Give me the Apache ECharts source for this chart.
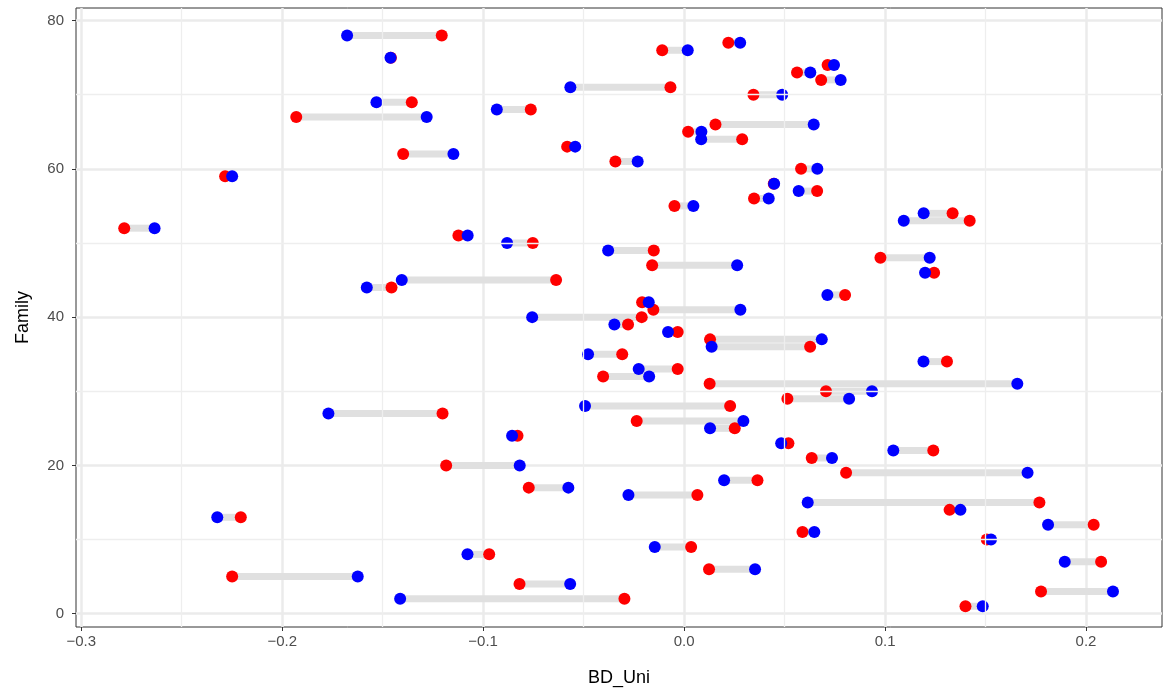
<!DOCTYPE html>
<html>
<head>
<meta charset="utf-8">
<script src="https://cdn.jsdelivr.net/npm/echarts@6.0.0/dist/echarts.min.js"></script>
<style>
  html, body { margin: 0; padding: 0; background: #fff; }
  #main { width: 1164px; height: 698px; }
</style>
</head>
<body>
<div id="main"></div>
<script>
// families 1..78
const family = [];
for (let f = 1; f <= 78; f++) family.push(f);

// BD_Uni, blue points (family 1 first)
const blueVals = [
  0.1486, -0.1413, 0.2134, -0.0567, -0.1624, 0.0353, 0.1894, -0.1078, -0.0146, 0.1527,
  0.0648, 0.1811, -0.2323, 0.1375, 0.0615, -0.0277, -0.0576, 0.0199, 0.1709, -0.0818,
  0.0736, 0.1041, 0.0483, -0.0856, 0.0129, 0.0295, -0.1770, -0.0493, 0.0821, 0.0935,
  0.1658, -0.0174, -0.0226, 0.1191, -0.0478, 0.0137, 0.0685, -0.0080, -0.0347, -0.0756,
  0.0280, -0.0176, 0.0713, -0.1579, -0.1405, 0.1199, 0.0264, 0.1222, -0.0378, -0.0881,
  -0.1077, -0.2635, 0.1093, 0.1192, 0.0046, 0.0421, 0.0570, 0.0448, -0.2249, 0.0663,
  -0.0231, -0.1148, -0.0542, 0.0085, 0.0086, 0.0645, -0.1281, -0.0932, -0.1531, 0.0488,
  -0.0566, 0.0779, 0.0628, 0.0746, -0.1461, 0.0018, 0.0279, -0.1677
];

// BD_Uni, red points (family 1 first)
const redVals = [
  0.1400, -0.0297, 0.1776, -0.0819, -0.2249, 0.0124, 0.2075, -0.0970, 0.0035, 0.1506,
  0.0589, 0.2038, -0.2206, 0.1321, 0.1768, 0.0066, -0.0773, 0.0365, 0.0806, -0.1184,
  0.0635, 0.1240, 0.0519, -0.0829, 0.0252, -0.0236, -0.1202, 0.0229, 0.0514, 0.0706,
  0.0127, -0.0403, -0.0032, 0.1308, -0.0308, 0.0627, 0.0129, -0.0032, -0.0279, -0.0211,
  -0.0153, -0.0209, 0.0801, -0.1456, -0.0637, 0.1244, -0.0159, 0.0977, -0.0151, -0.0753,
  -0.1123, -0.2786, 0.1421, 0.1336, -0.0048, 0.0348, 0.0662, 0.0446, -0.2284, 0.0582,
  -0.0342, -0.1398, -0.0582, 0.0289, 0.0020, 0.0156, -0.1930, -0.0763, -0.1355, 0.0345,
  -0.0068, 0.0682, 0.0562, 0.0714, -0.1459, -0.0109, 0.0220, -0.1206
];

const xTicks = [-0.3, -0.2, -0.1, 0.0, 0.1, 0.2];
const yTicks = [0, 20, 40, 60, 80];
const xMinor = [-0.25, -0.15, -0.05, 0.05, 0.15];
const yMinor = [10, 30, 50, 70];

let chartDom = document.getElementById("main");
let myChart = echarts.init(chartDom, null, { renderer: "canvas" });
let option;

const fontFam = "Liberation Sans, Arial, sans-serif";

let segData = family.map((f, i) => [blueVals[i], redVals[i], f]);
let redData = family.map((f, i) => [redVals[i], f]);
let blueData = family.map((f, i) => [blueVals[i], f]);

let minorLines = xMinor.map((v) => ({ xAxis: v })).concat(yMinor.map((v) => ({ yAxis: v })));

option = {
  animation: false,
  backgroundColor: "#ffffff",
  grid: {
    left: 76,
    right: 2,
    top: 8,
    bottom: 71,
    show: true,
    borderColor: "#333333",
    borderWidth: 1,
    backgroundColor: "#ffffff",
    containLabel: false,
    outerBoundsMode: "none",
  },
  xAxis: {
    type: "value",
    min: -0.3026,
    max: 0.2378,
    name: "BD_Uni",
    nameLocation: "middle",
    nameGap: 42,
    nameTextStyle: { color: "#000", fontSize: 18, fontFamily: fontFam },
    axisLine: { show: false, onZero: false },
    axisTick: {
      show: true,
      customValues: xTicks,
      length: 4,
      lineStyle: { color: "#333333", width: 1 },
    },
    axisLabel: {
      customValues: xTicks,
      margin: 7,
      color: "#4d4d4d",
      fontSize: 15,
      fontFamily: fontFam,
      formatter: function (v) {
        return v.toFixed(1).replace("-", "\u2212");
      },
    },
    splitLine: { show: true, lineStyle: { color: "#ebebeb", width: 2.5 } },
  },
  yAxis: {
    type: "value",
    min: -1.8,
    max: 81.7,
    name: "Family",
    nameLocation: "middle",
    nameGap: 44,
    nameTextStyle: { color: "#000", fontSize: 18, fontFamily: fontFam },
    axisLine: { show: false, onZero: false },
    axisTick: {
      show: true,
      customValues: yTicks,
      length: 4,
      lineStyle: { color: "#333333", width: 1 },
    },
    axisLabel: {
      customValues: yTicks,
      margin: 12,
      color: "#4d4d4d",
      fontSize: 15,
      fontFamily: fontFam,
    },
    splitLine: { show: true, lineStyle: { color: "#ebebeb", width: 2.5 } },
  },
  series: [
    {
      name: "minor",
      type: "line",
      data: [],
      z: 0,
      markLine: {
        silent: true,
        symbol: "none",
        label: { show: false },
        lineStyle: { color: "#eeeeee", width: 1.3, type: "solid" },
        data: minorLines,
      },
    },
    {
      name: "segment",
      type: "custom",
      z: 1,
      data: segData,
      encode: { x: [0, 1], y: 2 },
      renderItem: function (params, api) {
        let p1 = api.coord([api.value(0), api.value(2)]);
        let p2 = api.coord([api.value(1), api.value(2)]);
        return {
          type: "line",
          shape: { x1: p1[0], y1: p1[1], x2: p2[0], y2: p2[1] },
          style: { stroke: "#e0e0e0", lineWidth: 7 },
        };
      },
    },
    {
      name: "red",
      type: "scatter",
      z: 2,
      symbolSize: 12,
      itemStyle: { color: "#ff0000", opacity: 1 },
      data: redData,
    },
    {
      name: "blue",
      type: "scatter",
      z: 3,
      symbolSize: 12,
      itemStyle: { color: "#0000ff", opacity: 1 },
      data: blueData,
    },
  ],
};

option && myChart.setOption(option);
</script>
</body>
</html>
